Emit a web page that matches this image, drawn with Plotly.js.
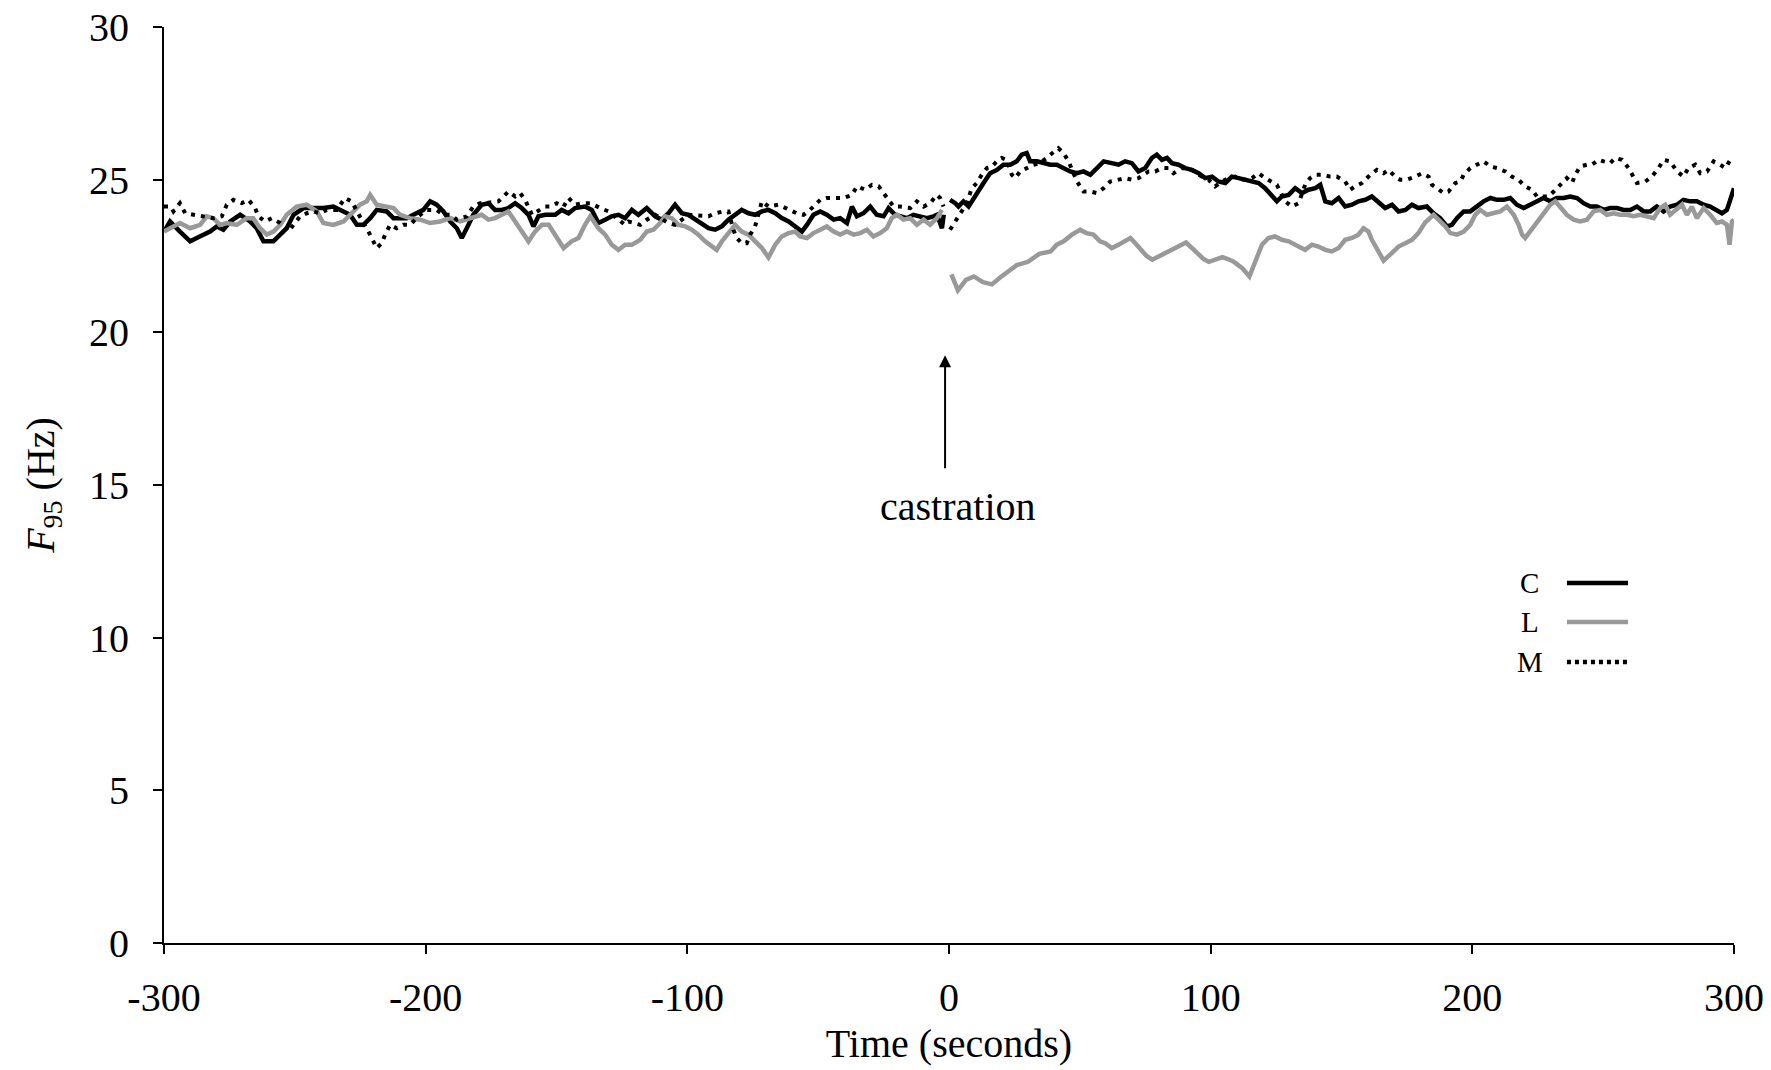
<!DOCTYPE html>
<html>
<head>
<meta charset="utf-8">
<script src="https://cdn.plot.ly/plotly-3.0.1.min.js"></script>
<style>html,body{margin:0;padding:0;background:#fff;}#chart{width:1771px;height:1070px;}</style>
</head>
<body>
<div id="chart"></div>
<script>
// ---- Data (time in seconds, F95 in Hz); null marks the break at castration ----
const tC = [-300,-297.7,-293.9,-290,-287.5,-285,-282.4,-279.8,-277.3,-274.7,-270.9,-267.1,-264.6,-262,-258.2,-255.6,-253.1,-250.5,-246.7,-242.9,-239.1,-235.3,-231.4,-228.9,-226.3,-223.8,-221.2,-218.7,-214.9,-212.3,-209.8,-207.2,-204.7,-200.9,-198.3,-195.8,-193.2,-190.6,-188.1,-186.2,-184.3,-181.8,-178.6,-176,-173.5,-170.9,-168.4,-165.8,-163.3,-160.7,-158.8,-156.9,-154.3,-150.5,-148,-145.4,-142.9,-139.1,-136.5,-134,-131.4,-128.9,-126.3,-123.8,-121.2,-118.7,-115.5,-112.3,-109.8,-107.2,-104.7,-102.1,-99.6,-97,-94.5,-91.9,-89.4,-86.8,-84.3,-81.7,-79.2,-76.6,-74.1,-71.5,-69,-66.4,-63.9,-61.3,-58.2,-56.2,-54.3,-51.8,-49.2,-46.7,-44.1,-41.6,-39,-37.1,-35.2,-32.7,-30.1,-27.6,-25,-23.1,-20.6,-18,-16.1,-13.6,-11,-8.5,-5.9,-4.6,-2.7,-2,-1,
0.4,2.4,3.6,5.5,7.5,9.4,11.3,13.2,15.7,18.3,20.8,23.4,25.9,27.8,29.7,31,33.6,36.1,38.7,41.2,43.8,46.3,48.9,51.4,54,56.5,59.1,62.2,64.8,67.3,69.9,72.4,75,77.5,79.4,81.4,83.3,85.2,87.7,90.3,92.8,95.4,97.9,100.5,103,105.6,108.1,110.7,113.2,115.8,118.3,120.8,123.4,125.3,127.2,129.8,132.3,134.9,137.4,140,141.9,143.8,146.3,148.9,151.4,154,156.5,159.1,161.6,164.2,166.7,169.3,171.8,174.4,176.9,179.4,182.6,185.2,187.7,190.3,192.2,194.1,196.7,199.2,201.8,204.3,206.9,209.4,212,214.5,217,219.6,222.1,224.7,227.2,229.8,232.3,234.9,237.4,240,242.5,245.1,247.6,250.2,252.7,255.3,257.8,260.4,262.9,265.5,268,270.5,273.1,275.6,278.2,280.7,283.2,285.8,288.4,290.9,293.4,295.4,297.3,298.6,300];
const vC = [23.3,23.63,23.3,22.98,23.09,23.2,23.3,23.47,23.36,23.63,23.85,23.63,23.41,22.98,22.98,23.2,23.41,23.85,24.07,24.07,24.07,24.12,23.96,23.85,23.52,23.52,23.74,24.01,23.96,23.74,23.74,23.74,23.85,24.01,24.29,24.18,23.96,23.63,23.41,23.09,23.41,23.85,24.18,24.23,24.01,24.01,24.07,24.23,24.07,23.85,23.47,23.8,23.85,23.85,24.01,23.9,24.07,24.12,24.01,23.58,23.69,23.8,23.85,23.74,24.01,23.85,24.07,23.8,23.69,23.9,24.18,23.9,23.85,23.69,23.58,23.41,23.36,23.47,23.69,23.85,24.01,23.9,23.85,23.96,24.01,23.9,23.74,23.63,23.41,23.3,23.52,23.85,23.96,23.85,23.69,23.74,23.58,24.12,23.8,23.9,24.12,23.85,23.8,24.07,23.85,23.8,23.74,23.85,23.8,23.74,23.8,23.85,23.41,23.85,null,
24.34,24.23,24.12,24.29,24.12,24.4,24.61,24.89,25.21,25.32,25.49,25.49,25.6,25.82,25.87,25.6,25.6,25.54,25.49,25.49,25.38,25.27,25.21,25.27,25.16,25.38,25.6,25.54,25.49,25.6,25.54,25.27,25.38,25.71,25.82,25.65,25.71,25.54,25.49,25.38,25.32,25.21,25.05,25.1,24.94,24.89,25.1,25.05,25.0,24.94,24.89,24.72,24.45,24.29,24.45,24.5,24.72,24.56,24.67,24.72,24.83,24.29,24.23,24.4,24.12,24.18,24.29,24.34,24.45,24.23,24.07,24.18,23.96,24.01,24.18,24.07,24.12,23.9,23.74,23.47,23.52,23.74,23.96,23.96,24.12,24.29,24.4,24.34,24.34,24.4,24.18,24.07,24.18,24.29,24.4,24.29,24.4,24.4,24.45,24.4,24.23,24.12,24.12,24.01,24.07,24.07,24.01,24.01,24.12,23.96,23.96,24.12,23.96,24.12,24.18,24.34,24.29,24.29,24.18,24.12,24.01,23.9,24.01,24.4,24.72];

const tL = [-300,-297.7,-293.9,-290,-286.2,-283.7,-281.1,-278.6,-276,-272.2,-268.4,-265.9,-263.3,-260.7,-258.2,-255.6,-253.1,-249.3,-245.5,-241.6,-239.1,-235.3,-231.4,-227.6,-225.1,-222.5,-221.2,-218.7,-214.9,-212.3,-209.8,-206,-202.1,-198.3,-194.5,-190.6,-186.8,-183,-178.6,-176,-173.5,-170.9,-168.4,-165.8,-163.3,-160.7,-158.2,-155.6,-153,-150.5,-147.3,-144.2,-141.6,-139.1,-137.1,-134,-131.4,-128.9,-126.3,-123.8,-121.2,-118,-115.5,-113,-110.4,-108.5,-105.9,-103.4,-100.8,-98.3,-95.8,-93.2,-90.7,-88.8,-86.8,-84.3,-81.7,-79.2,-76.6,-74.1,-71.5,-69,-66.4,-63.9,-61.3,-58.8,-56.9,-54.3,-51.8,-49.2,-46.7,-44.1,-41.6,-39,-36.5,-33.9,-31.4,-28.9,-26.3,-23.8,-21.9,-19.9,-17.4,-14.8,-12.3,-9.7,-7.2,-4.6,-2.7,-1,
0.9,3.4,6.5,9.5,13,16.4,19.4,22.9,25.9,30.2,34.5,38.8,41.2,43.8,47,50.1,52.5,55.2,57.7,59.7,62.2,64.8,67.3,69.3,71.2,73.7,75.5,77.7,80.5,84.2,87,90.6,93,95,97.3,99.3,102,104.5,106.5,108.8,110.5,112.2,114.8,117.4,119.6,122.1,124.6,127.2,129.8,133.6,136.1,138.7,141.2,143.8,146.3,148.9,151.4,154,156.5,158.4,160.3,161.6,164.2,166.1,169.3,171.8,174.4,176.9,179.4,182,185.2,187.1,189.7,191.6,194.1,196.7,199.2,201.1,203,205.6,208.1,210.7,213.2,215.8,217.7,219,220.2,222.1,224.7,227.2,229.8,231.7,233.6,236.1,238.7,241.2,243.8,246.3,248.9,251.4,254,256.5,259.1,261.6,264.2,266.7,269.3,271.8,273.7,275.6,278.2,280.1,282,283.9,285.8,288.4,290.9,293.4,295.4,297.3,298.3,299.2,300];
const vL = [23.3,23.41,23.58,23.41,23.52,23.8,23.74,23.52,23.58,23.52,23.74,23.74,23.41,23.2,23.3,23.52,23.85,24.12,24.18,23.96,23.58,23.52,23.63,23.96,24.18,24.29,24.5,24.18,24.12,24.07,23.85,23.74,23.69,23.58,23.63,23.74,23.63,23.74,23.85,23.69,23.74,23.85,23.96,23.63,23.3,22.98,23.3,23.52,23.52,23.2,22.76,22.98,23.09,23.52,23.8,23.41,23.2,22.87,22.7,22.87,22.87,23.03,23.3,23.36,23.58,23.8,23.74,23.52,23.47,23.36,23.2,22.98,22.81,22.7,22.98,23.25,23.52,23.3,23.2,22.98,22.76,22.45,22.87,23.14,23.25,23.3,23.14,23.09,23.25,23.36,23.47,23.3,23.2,23.3,23.2,23.25,23.36,23.14,23.25,23.41,23.74,23.85,23.69,23.74,23.52,23.69,23.52,23.74,24.01,null,
21.9,21.38,21.72,21.83,21.64,21.57,21.79,22.01,22.2,22.31,22.57,22.65,22.87,22.98,23.2,23.36,23.25,23.2,22.98,22.92,22.76,22.87,22.98,23.09,22.92,22.7,22.5,22.38,22.5,22.68,22.81,22.94,22.75,22.57,22.4,22.31,22.4,22.46,22.4,22.31,22.2,22.09,21.83,22.38,22.87,23.09,23.14,23.03,22.98,22.81,22.7,22.87,22.81,22.7,22.65,22.76,23.03,23.09,23.2,23.41,23.3,23.03,22.6,22.35,22.6,22.81,22.92,23.03,23.25,23.6,23.85,23.69,23.47,23.25,23.2,23.3,23.52,23.85,24.01,23.85,23.9,23.96,24.12,23.85,23.52,23.2,23.09,23.3,23.58,23.85,24.18,24.29,24.12,23.85,23.69,23.63,23.69,23.96,24.01,23.85,23.9,23.85,23.85,23.8,23.85,23.8,23.74,24.07,24.18,23.85,24.07,24.18,23.85,24.12,23.74,24.07,23.85,23.58,23.63,23.52,22.87,23.63,23.69];

const tM = [-300,-297.5,-296.4,-293.9,-291.9,-288.8,-284.9,-281.1,-277.9,-276,-273.5,-270.3,-267.7,-265.2,-263.9,-261.4,-258.8,-255.6,-252.5,-250.5,-248,-245.4,-242.9,-240.4,-237.8,-234,-230.8,-228.3,-226.3,-223.8,-222.5,-220.6,-218.7,-216.8,-215.5,-213.6,-211.1,-208.5,-206,-202.8,-199.6,-195.8,-193.2,-190.6,-188.1,-184.3,-181.8,-179.2,-177.3,-172.2,-170.3,-168.4,-165.8,-163.9,-162,-160.7,-159.4,-154.3,-152.4,-149.9,-147.3,-145.4,-142.9,-139.7,-137.1,-133.3,-130.1,-123.8,-122.5,-118,-115.5,-112.3,-107.2,-104.7,-99.6,-91.9,-89.4,-86.2,-84.3,-82.4,-81.1,-79.2,-77.3,-76,-74.1,-71.5,-69,-65.2,-61.3,-58.2,-55.6,-53.1,-49.2,-46.7,-43.5,-40.3,-37.1,-35.2,-32,-29.5,-26.9,-25,-23.1,-21.2,-18.7,-14.8,-12.3,-9.7,-7.2,-4.7,-3.4,-2.1,-1,
0.4,2.4,4.3,6.8,8.7,10.6,12.5,14.5,16.4,18.3,20.2,22.1,24,25.3,27.2,29.7,32.3,34.8,37.4,39.9,41.8,43.8,45.7,48.9,51.4,54,56.5,59.1,61.6,64.8,67.3,69.9,72.4,76.3,78.8,81.4,83.9,85.8,89,92.8,96.6,99.2,101.7,104.3,106.8,109.4,112.6,115.8,118.3,120.8,122.8,125.3,128.5,131,133.6,136.1,138,140,142.5,145.7,148.2,151.4,153.3,155.2,157.8,161,163.5,166.1,168,170.5,172.4,175,178.2,180.7,183.3,184.6,186.5,189,190.9,193.5,195.4,196.7,199.2,201.8,204.3,206.9,209.4,212.6,215.1,217.7,220.2,222.8,224.7,227.2,229.1,231.1,233.6,236.1,238.1,239.3,241.2,243.8,245.7,248.3,250.2,252.7,254.6,257.2,259.7,262.9,266.1,268.6,271.2,273.1,275.6,278.2,280.7,282.6,285.2,287.1,289.7,292.2,294.7,296.7,298.6];
const vM = [24.12,24.12,23.96,24.23,23.9,23.85,23.8,23.74,23.8,24.18,24.34,24.23,24.34,24.07,23.8,23.63,23.74,23.58,23.3,23.52,23.8,23.9,23.96,23.9,24.01,24.01,24.4,24.29,23.96,23.58,23.41,23.09,22.76,22.92,23.2,23.52,23.41,23.52,23.52,23.8,24.01,24.01,23.85,23.85,23.69,23.8,24.12,24.23,24.23,24.29,24.45,24.61,24.45,24.56,24.34,24.12,23.85,24.12,24.12,24.23,24.12,24.4,24.18,24.23,24.23,24.07,23.96,23.52,23.63,23.52,23.69,23.85,23.58,23.52,23.85,23.8,23.9,23.96,23.96,23.36,23.09,22.92,22.92,23.2,23.47,24.29,24.12,24.18,24.01,23.9,23.85,24.01,24.34,24.4,24.4,24.4,24.5,24.78,24.67,24.83,24.78,24.56,24.34,24.12,24.12,24.07,24.29,24.12,24.23,24.5,24.4,24.12,null,
23.36,23.63,23.9,24.23,24.72,24.89,25.16,25.38,25.43,25.6,25.71,25.65,25.16,25.05,25.27,25.38,25.49,25.54,25.71,25.87,26.03,25.87,25.6,24.94,24.61,24.61,24.56,24.72,24.94,25.0,25.05,25.0,25.05,25.27,25.27,25.38,25.38,25.21,25.38,25.32,25.1,25.0,24.78,24.94,25.05,25.1,25.0,25.05,25.21,25.05,24.94,24.83,24.29,24.12,24.23,24.83,25.05,25.16,25.16,25.1,25.1,24.94,24.67,24.78,24.89,25.16,25.32,25.21,25.32,25.1,25.0,25.0,25.1,25.21,25.1,24.83,24.72,24.56,24.61,24.89,24.94,25.16,25.38,25.49,25.6,25.43,25.38,25.27,25.1,24.99,24.78,24.67,24.45,24.45,24.45,24.61,24.83,25.05,24.89,25.16,25.43,25.49,25.49,25.65,25.6,25.54,25.71,25.65,25.38,24.89,24.94,25.1,25.38,25.65,25.6,25.27,25.1,25.38,25.49,25.21,25.27,25.6,25.49,25.38,25.65];

const seriesNames = ['C', 'L', 'M'];
const xTicks = [-300, -200, -100, 0, 100, 200, 300];
const yTicks = [0, 5, 10, 15, 20, 25, 30];
const annotationText = 'castration';

// ---- Drawing ----
const serif = 'Liberation Serif, Times New Roman, serif';
const black = '#000000';
const gray = '#999999';
const dotDash = '4px,6px';

const traces = [
  {x: tC, y: vC, name: seriesNames[0], mode: 'lines', connectgaps: false,
   line: {color: black, width: 4.5}},
  {x: tL, y: vL, name: seriesNames[1], mode: 'lines', connectgaps: false,
   line: {color: gray, width: 4.5}},
  {x: tM, y: vM, name: seriesNames[2], mode: 'lines', connectgaps: false,
   line: {color: black, width: 4, dash: dotDash}}
];

const axisCommon = {
  showline: true, linecolor: black, linewidth: 2,
  ticks: 'outside', ticklen: 9, tickwidth: 2, tickcolor: black,
  showgrid: false, zeroline: false,
  tickfont: {family: serif, size: 40, color: black}
};

// legend drawn manually (labels to the left of line samples)
const legY = [0.393, 0.3504, 0.3068];
const legColors = [black, gray, black];
const legDash = ['solid', 'solid', '4px,4px'];
const shapes = seriesNames.map((n, i) => ({
  type: 'line', xref: 'paper', yref: 'paper',
  x0: 0.8936, x1: 0.9325, y0: legY[i], y1: legY[i],
  line: {color: legColors[i], width: 4.5, dash: legDash[i]}
}));
const annotations = seriesNames.map((n, i) => ({
  xref: 'paper', yref: 'paper', x: 0.870, y: legY[i],
  text: n, showarrow: false, xanchor: 'center', yanchor: 'middle',
  font: {family: serif, size: 29, color: black}
}));
annotations.push({
  x: -1.5, y: 19.25, xref: 'x', yref: 'y',
  ax: -1.5, ay: 15.5, axref: 'x', ayref: 'y',
  text: '', showarrow: true, arrowhead: 2, arrowsize: 1.2, arrowwidth: 2, arrowcolor: black
});
annotations.push({
  x: 3.5, y: 14.3, xref: 'x', yref: 'y', text: annotationText, showarrow: false,
  xanchor: 'center', yanchor: 'middle',
  font: {family: serif, size: 40, color: black}
});

const layout = {
  width: 1771, height: 1070,
  margin: {l: 164, r: 37, t: 27, b: 127},
  paper_bgcolor: '#ffffff', plot_bgcolor: '#ffffff',
  showlegend: false,
  font: {family: serif, color: black},
  xaxis: Object.assign({}, axisCommon, {
    range: [-300, 300], tickvals: xTicks, ticktext: xTicks.map(String),
    ticklabelstandoff: 9,
    title: {text: 'Time (seconds)', font: {family: serif, size: 40, color: black}, standoff: 10}
  }),
  yaxis: Object.assign({}, axisCommon, {
    range: [0, 30], tickvals: yTicks, ticktext: yTicks.map(String),
    ticklabelstandoff: 16,
    title: {text: '<i>F</i><sub>95</sub> (Hz)', font: {family: serif, size: 40, color: black}, standoff: 22}
  }),
  shapes: shapes,
  annotations: annotations
};

Plotly.newPlot('chart', traces, layout, {displayModeBar: false, staticPlot: true});
</script>
</body>
</html>
